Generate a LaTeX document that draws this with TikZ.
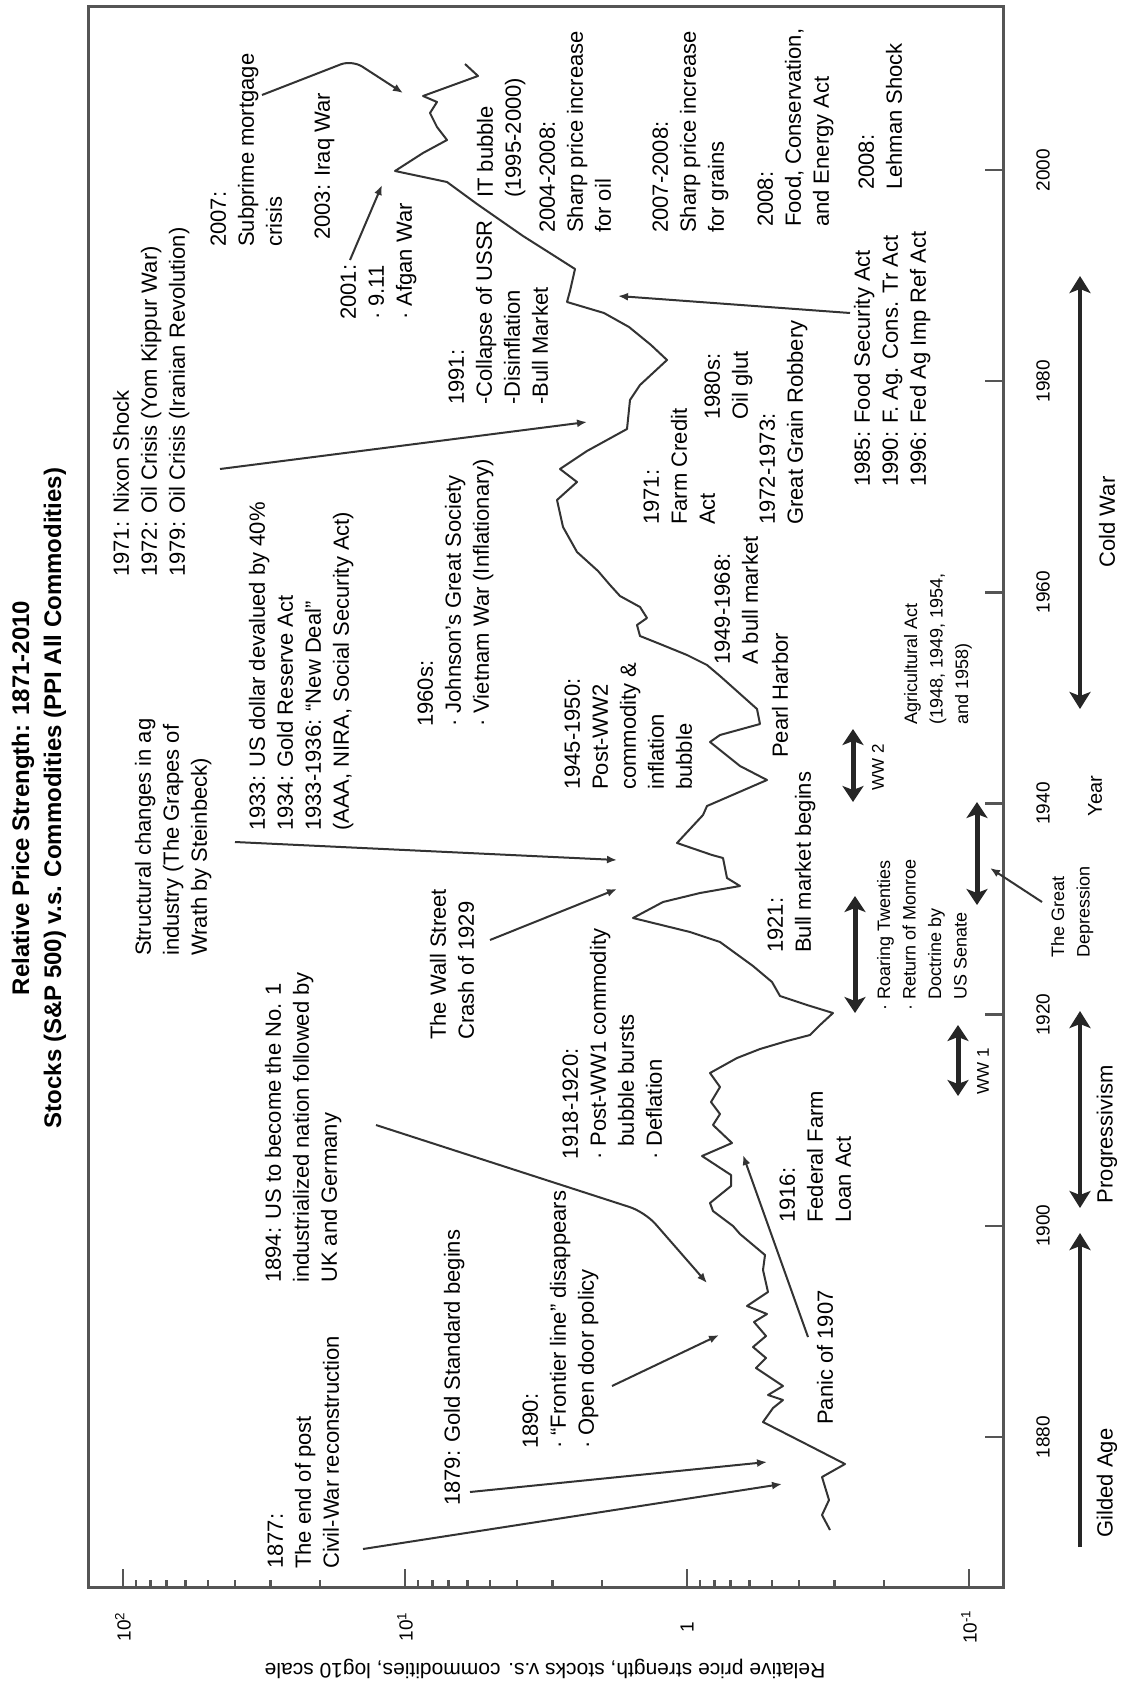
\documentclass[tikz,border=0pt]{standalone}
\usepackage{fontspec}
\setmainfont{Liberation Sans}
\usetikzlibrary{arrows.meta}
\definecolor{linec}{HTML}{333333}
\definecolor{framec}{HTML}{555555}
\begin{document}
\begin{tikzpicture}[x=1pt,y=-1pt,
  ann/.style={rotate=90,anchor=north west,align=left,inner sep=0pt,font=\fontsize{22}{28}\selectfont},
  anns/.style={rotate=90,anchor=north west,align=left,inner sep=0pt,font=\fontsize{18}{25.5}\selectfont},
  lab/.style={rotate=90,inner sep=0pt,font=\fontsize{22}{28}\selectfont},
  labs/.style={rotate=90,inner sep=0pt,font=\fontsize{17}{20}\selectfont},
  ticklab/.style={rotate=90,inner sep=0pt,font=\fontsize{19}{22}\selectfont},
  frameline/.style={draw=framec,line width=3pt},
  tickline/.style={draw=framec,line width=2.5pt},
  curveline/.style={draw=linec,line width=2pt,line join=round},
  ptr/.style={draw=linec,line width=2pt,arrows={-Latex[length=10pt,width=8pt]}},
  bigarr/.style={draw=black!85,line width=5pt,arrows={Stealth[length=16pt,width=21pt,inset=4pt]-Stealth[length=16pt,width=21pt,inset=4pt]}},
  eraarr/.style={draw=black!85,line width=4pt,arrows={Stealth[length=17pt,width=21pt,inset=4pt]-Stealth[length=17pt,width=21pt,inset=4pt]}},
  eraone/.style={draw=black!85,line width=4pt,arrows={-Stealth[length=17pt,width=21pt,inset=4pt]}}
]
\useasboundingbox (0,0) rectangle (1123,1683);
\fill[white] (0,0) rectangle (1123,1683);

% title
\node[rotate=90,align=center,inner sep=0pt,font=\bfseries\fontsize{24}{32}\selectfont] (title) at (39,798)
  {Relative Price Strength: 1871-2010\\Stocks (S\&P 500) v.s. Commodities (PPI All Commodities)};

% frame
\draw[frameline] (88,7) rectangle (1003,1587);

% value axis ticks
\foreach \xx in {123,405,687,969} \draw[tickline] (\xx,1587) -- (\xx,1569);
\foreach \b in {405,687,969}{
  \foreach \m in {2,...,9}{
    \pgfmathsetmacro\xm{\b-282*log10(\m)}
    \draw[tickline] (\xm,1587) -- (\xm,1580);
  }
}
\node[ticklab] (v2) at (123,1627) {10\textsuperscript{2}};
\node[ticklab] (v1) at (405,1627) {10\textsuperscript{1}};
\node[ticklab] (v0) at (687,1627) {1};
\node[ticklab] (vm1) at (969,1627) {10\textsuperscript{-1}};
\node[rotate=180,inner sep=0pt,font=\fontsize{21}{24}\selectfont] (ylab) at (545,1669)
  {Relative price strength, stocks v.s. commodities, log10 scale};

% year axis ticks
\foreach \yr in {1880,1900,...,2000}{
  \pgfmathsetmacro\yy{1437-(\yr-1880)*10.5583}
  \draw[tickline] (1003,\yy) -- (985,\yy);
  \node[ticklab] at (1043,\yy) {\yr};
}
\node[rotate=90,inner sep=0pt,font=\fontsize{20}{24}\selectfont] (yearlab) at (1095,796) {Year};

% era arrows
\coordinate (gA) at (1080,1547); \coordinate (gB) at (1080,1233);
\coordinate (pA) at (1080,1208); \coordinate (pB) at (1080,1011);
\coordinate (cA) at (1080,709);  \coordinate (cB) at (1080,276);
\draw[eraone] (gA) -- (gB);
\draw[eraarr] (pA) -- (pB);
\draw[eraarr] (cA) -- (cB);
\node[lab] (gilded) at (1107,1483) {Gilded Age};
\node[lab] (progr) at (1107,1134) {Progressivism};
\node[lab] (cold) at (1107,522) {Cold War};

% the data curve
\draw[curveline] plot coordinates {
(830,1530) (822,1515) (829,1500) (822,1477) (845,1464) (808,1445) (763,1422) (773,1408)
(783,1400) (768,1395) (783,1386) (756,1368) (766,1358) (753,1347) (766,1336) (754,1322)
(767,1314) (747,1306) (768,1292) (763,1270) (765,1255) (740,1234) (733,1226) (713,1211)
(710,1203) (731,1186) (731,1175) (702,1156) (732,1143) (713,1125) (720,1114) (711,1102)
(720,1087) (710,1073) (737,1058) (760,1049) (787,1041) (810,1035) (820,1025) (833,1013)
(807,1005) (780,996) (772,982) (753,966) (720,942) (690,932) (633,918) (663,902)
(700,893) (740,886) (727,878) (723,858) (712,855) (677,843) (703,815) (707,806)
(767,780) (740,766) (710,742) (720,735) (760,724) (757,709) (720,676) (707,665)
(687,655) (660,644) (640,636) (637,625) (647,618) (640,607) (620,596) (610,585)
(598,571) (577,552) (563,527) (557,500) (577,482) (560,469) (587,451) (627,429)
(630,400) (640,385) (667,360) (651,345) (629,327) (604,313) (567,302) (570,291)
(575,269) (553,255) (523,236) (477,204) (447,182) (395,171) (423,153) (447,140)
(437,127) (430,113) (437,102) (423,96) (478,76) (465,64)
};

% war / period double arrows
\coordinate (w1a) at (958,1096); \coordinate (w1b) at (958,1025);
\coordinate (rta) at (855,1013); \coordinate (rtb) at (855,896);
\coordinate (w2a) at (853,802);  \coordinate (w2b) at (853,729);
\coordinate (gda) at (977,905);  \coordinate (gdb) at (977,802);
\draw[bigarr] (w1a) -- (w1b);
\draw[bigarr] (rta) -- (rtb);
\draw[bigarr] (w2a) -- (w2b);
\draw[bigarr] (gda) -- (gdb);
\node[labs] (ww1) at (983,1071) {WW 1};
\node[labs] (ww2) at (878,767) {WW 2};

% annotation texts
\node[ann] (n1971) at (109,577) {\strut 1971: Nixon Shock\\1972: Oil Crisis (Yom Kippur War)\\1979: Oil Crisis (Iranian Revolution)};
\node[ann] (n2007) at (206,247) {\strut 2007:\\Subprime mortgage\\crisis};
\node[ann] (n2003) at (310,240) {\strut 2003: Iraq War};
\node[ann] (n2001) at (336,320) {\strut 2001:\\· 9.11\\· Afgan War};
\node[ann] (n1991) at (444,405) {\strut 1991:\\-Collapse of USSR\\-Disinflation\\-Bull Market};
\node[ann] (nIT) at (473,198) {\strut IT bubble\\(1995-2000)};
\node[ann] (n2004) at (535,233) {\strut 2004-2008:\\Sharp price increase\\for oil};
\node[ann] (n2007b) at (648,233) {\strut 2007-2008:\\Sharp price increase\\for grains};
\node[ann] (n2008a) at (753,227) {\strut 2008:\\Food, Conservation,\\and Energy Act};
\node[ann] (n2008b) at (854,190) {\strut 2008:\\Lehman Shock};
\node[ann] (n1985) at (850,487) {\strut 1985: Food Security Act\\1990: F. Ag. Cons. Tr Act\\1996: Fed Ag Imp Ref Act};
\node[ann] (n1971f) at (639,525) {\strut 1971:\\Farm Credit\\Act};
\node[ann] (n1980s) at (700,420) {\strut 1980s:\\Oil glut};
\node[ann] (n1972) at (755,525) {\strut 1972-1973:\\Great Grain Robbery};
\node[ann] (n1960s) at (413,727) {\strut 1960s:\\· Johnson's Great Society\\· Vietnam War (Inflationary)};
\node[ann] (n1945) at (560,790) {\strut 1945-1950:\\Post-WW2\\commodity \&\\inflation\\bubble};
\node[ann] (n1949) at (710,665) {\strut 1949-1968:\\A bull market};
\node[ann] (npearl) at (768,758) {\strut Pearl Harbor};
\node[ann] (n1921) at (763,953) {\strut 1921:\\Bull market begins};
\node[anns] (nagri) at (899,725) {\strut Agricultural Act\\(1948, 1949, 1954,\\and 1958)};
\node[anns] (nroar) at (872,1011) {\strut · Roaring Twenties\\· Return of Monroe\\\phantom{· }Doctrine by\\\phantom{· }US Senate};
\node[ann] (nstruct) at (131,956) {\strut Structural changes in ag\\industry (The Grapes of\\Wrath by Steinbeck)};
\node[ann] (n1933) at (245,831) {\strut 1933: US dollar devalued by 40\%\\1934: Gold Reserve Act\\1933-1936: “New Deal”\\(AAA, NIRA, Social Security Act)};
\node[ann] (nwall) at (426,1040) {\strut The Wall Street\\Crash of 1929};
\node[ann] (n1918) at (558,1160) {\strut 1918-1920:\\· Post-WW1 commodity\\\phantom{· }bubble bursts\\· Deflation};
\node[ann] (n1894) at (261,1283) {\strut 1894: US to become the No. 1\\industrialized nation followed by\\UK and Germany};
\node[ann] (n1879) at (440,1506) {\strut 1879: Gold Standard begins};
\node[ann] (n1877) at (263,1569) {\strut 1877:\\The end of post\\Civil-War reconstruction};
\node[ann] (n1890) at (518,1449) {\strut 1890:\\· “Frontier line” disappears\\· Open door policy};
\node[ann] (npanic) at (813,1425) {\strut Panic of 1907};
\node[ann] (n1916) at (775,1223) {\strut 1916:\\Federal Farm\\Loan Act};
\node[anns] (ndep) at (1046,958) {\strut The Great\\Depression};

% annotation arrows
\coordinate (a1s) at (220,469);  \coordinate (a1e) at (587,422);
\coordinate (a2s) at (262,95);   \coordinate (a2m) at (352,60);  \coordinate (a2e) at (403,93);
\coordinate (a3s) at (350,260);  \coordinate (a3e) at (382,185);
\coordinate (a4s) at (850,313);  \coordinate (a4e) at (618,296);
\coordinate (a5s) at (235,842);  \coordinate (a5e) at (617,860);
\coordinate (a6s) at (490,940);  \coordinate (a6e) at (617,889);
\coordinate (a7s) at (376,1125); \coordinate (a7m) at (645,1212); \coordinate (a7e) at (707,1283);
\coordinate (a8s) at (470,1492); \coordinate (a8e) at (767,1462);
\coordinate (a9s) at (363,1549); \coordinate (a9e) at (782,1484);
\coordinate (a10s) at (612,1386); \coordinate (a10e) at (719,1335);
\coordinate (a11s) at (808,1337); \coordinate (a11e) at (743,1155);
\coordinate (a12s) at (1042,902); \coordinate (a12e) at (990,868);
\draw[ptr] (a1s) -- (a1e);
\draw[ptr,rounded corners=12pt] (a2s) -- (a2m) -- (a2e);
\draw[ptr] (a3s) -- (a3e);
\draw[ptr] (a4s) -- (a4e);
\draw[ptr] (a5s) -- (a5e);
\draw[ptr] (a6s) -- (a6e);
\draw[ptr,rounded corners=16pt] (a7s) -- (a7m) -- (a7e);
\draw[ptr] (a8s) -- (a8e);
\draw[ptr] (a9s) -- (a9e);
\draw[ptr] (a10s) -- (a10e);
\draw[ptr] (a11s) -- (a11e);
\draw[ptr] (a12s) -- (a12e);
\end{tikzpicture}
\end{document}
